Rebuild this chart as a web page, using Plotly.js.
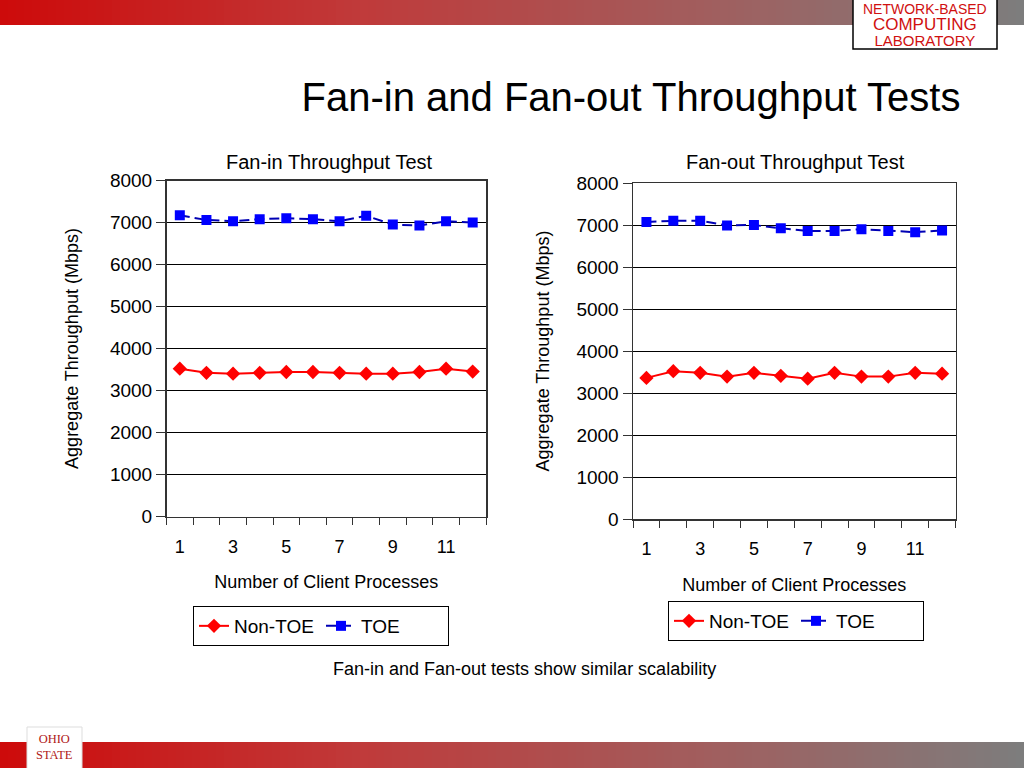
<!DOCTYPE html>
<html>
<head>
<meta charset="utf-8">
<script src="https://cdn.plot.ly/plotly-3.0.1.min.js"></script>
<style>
html,body{margin:0;padding:0;background:#fff;}
#chart{width:1024px;height:768px;}
</style>
</head>
<body>
<div id="chart"></div>
<script>
// ---- data ----
var processes = [1, 2, 3, 4, 5, 6, 7, 8, 9, 10, 11, 12];
var xTickVals = [1, 3, 5, 7, 9, 11];
var xBoundaries = [0.5, 1.5, 2.5, 3.5, 4.5, 5.5, 6.5, 7.5, 8.5, 9.5, 10.5, 11.5, 12.5];
var fanInNonToe  = [3520, 3420, 3400, 3420, 3440, 3440, 3420, 3400, 3400, 3440, 3520, 3450];
var fanInToe     = [7170, 7060, 7030, 7080, 7100, 7080, 7030, 7160, 6950, 6930, 7030, 7000];
var fanOutNonToe = [3360, 3520, 3480, 3390, 3480, 3410, 3340, 3480, 3390, 3390, 3480, 3460];
var fanOutToe    = [7070, 7100, 7100, 6990, 7000, 6920, 6860, 6860, 6900, 6860, 6830, 6870];
var seriesNames = ['Non-TOE', 'TOE'];

var FONT = 'Liberation Sans, Arial, sans-serif';
var red = '#ff0000', blue = '#0000ff', blueLine = '#0000b4';

function nonToeTrace(y, xa, ya, lg) {
  return {x: processes, y: y, xaxis: xa, yaxis: ya, legend: lg, name: seriesNames[0],
    type: 'scatter', mode: 'lines+markers',
    line: {color: red, width: 2},
    marker: {symbol: 'diamond', size: 11, color: red}};
}
function toeTrace(y, xa, ya, lg) {
  return {x: processes, y: y, xaxis: xa, yaxis: ya, legend: lg, name: seriesNames[1],
    type: 'scatter', mode: 'lines+markers',
    line: {color: blueLine, width: 2, dash: '10px,5px'},
    marker: {symbol: 'square', size: 10, color: blue}};
}

var traces = [
  nonToeTrace(fanInNonToe, 'x', 'y', 'legend'),
  toeTrace(fanInToe, 'x', 'y', 'legend'),
  nonToeTrace(fanOutNonToe, 'x2', 'y2', 'legend2'),
  toeTrace(fanOutToe, 'x2', 'y2', 'legend2')
];

function xAxis(domain, anchor) {
  return {domain: domain, anchor: anchor, range: [0.5, 12.5], fixedrange: true,
    tickmode: 'array', tickvals: xTickVals,
    ticks: 'outside', ticklen: 13, tickcolor: 'rgba(0,0,0,0)',
    minor: {tickmode: 'array', tickvals: xBoundaries, ticks: 'outside', ticklen: 7, tickcolor: '#333', tickwidth: 1},
    showgrid: false, zeroline: false,
    showline: true, linecolor: '#333', linewidth: 1.5, mirror: true,
    tickfont: {family: FONT, size: 18, color: '#000'},
    title: {text: 'Number of Client Processes', standoff: 20, font: {family: FONT, size: 18, color: '#000'}}};
}
function yAxis(domain, anchor, standoff) {
  return {domain: domain, anchor: anchor, range: [0, 8000], dtick: 1000, fixedrange: true,
    ticks: 'outside', ticklen: 9, tickcolor: '#333',
    showgrid: true, gridcolor: '#000', gridwidth: 1, zeroline: false,
    showline: true, linecolor: '#333', linewidth: 1.5, mirror: true,
    tickfont: {family: FONT, size: 19, color: '#000'},
    title: {text: 'Aggregate Throughput (Mbps)', standoff: standoff, font: {family: FONT, size: 18, color: '#000'}}};
}

// ---- decorative gradient bars ----
var shapes = [];
function lerp(a, b, t) { return Math.round(a + (b - a) * t); }
function gradColor(t) {
  var stops = [[0, [205, 10, 10]], [0.35, [192, 58, 58]], [0.7, [160, 95, 95]], [1, [125, 125, 125]]];
  for (var i = 0; i < stops.length - 1; i++) {
    var s0 = stops[i], s1 = stops[i + 1];
    if (t <= s1[0]) {
      var u = (t - s0[0]) / (s1[0] - s0[0]);
      return 'rgb(' + lerp(s0[1][0], s1[1][0], u) + ',' + lerp(s0[1][1], s1[1][1], u) + ',' + lerp(s0[1][2], s1[1][2], u) + ')';
    }
  }
  return 'rgb(125,125,125)';
}
var N = 128;
for (var i = 0; i < N; i++) {
  var x0 = i / N, x1 = (i + 1) / N + 0.001, c = gradColor((i + 0.5) / N);
  shapes.push({type: 'rect', xref: 'paper', yref: 'paper', x0: x0, x1: x1, y0: 1 - 25 / 768, y1: 1, fillcolor: c, line: {width: 0}, layer: 'below'});
  shapes.push({type: 'rect', xref: 'paper', yref: 'paper', x0: x0, x1: x1, y0: 0, y1: 1 - 742 / 768, fillcolor: c, line: {width: 0}, layer: 'below'});
}
// logo boxes
shapes.push({type: 'rect', xref: 'paper', yref: 'paper', x0: 853 / 1024, x1: 997 / 1024, y0: 1 - 49 / 768, y1: 1.002, fillcolor: '#fff', line: {color: '#000', width: 1.5}, layer: 'below'});
shapes.push({type: 'rect', xref: 'paper', yref: 'paper', x0: 27 / 1024, x1: 82 / 1024, y0: -0.002, y1: 1 - 727 / 768, fillcolor: '#fff', line: {color: '#ddd', width: 1}, layer: 'below'});

function ann(text, xpx, ypx, size, opts) {
  var a = {text: text, xref: 'paper', yref: 'paper', x: xpx / 1024, y: 1 - ypx / 768,
    xanchor: 'center', yanchor: 'middle', showarrow: false,
    font: {family: FONT, size: size, color: '#000'}};
  if (opts) for (var k in opts) a[k] = opts[k];
  return a;
}

var annotations = [
  ann('Fan-in Throughput Test', 329, 162, 20),
  ann('Fan-out Throughput Test', 795, 162, 20),
  ann('Fan-in and Fan-out tests show similar scalability', 524, 669, 18),
  ann('<span style="font-size:14px">NETWORK-BASED</span><br><span style="font-size:17px">COMPUTING</span><br><span style="font-size:15px">LABORATORY</span>',
      925, 25, 12.3, {font: {family: FONT, size: 12.3, color: '#d01010'}, borderpad: 0}),
  ann('OHIO<br>STATE', 54, 747, 12.5, {font: {family: 'Liberation Serif, Times New Roman, serif', size: 12.5, color: '#b01818'}, borderpad: 0})
];

var legendStyle = function (xpx, ypx) {
  return {x: xpx / 1024, y: 1 - ypx / 768, xanchor: 'left', yanchor: 'top', orientation: 'h',
    bgcolor: '#fff', bordercolor: '#000', borderwidth: 1,
    font: {family: FONT, size: 19, color: '#000'}, entrywidth: 82, entrywidthmode: 'pixels', tracegroupgap: 0};
};

var layout = {
  width: 1024, height: 768,
  margin: {l: 0, r: 0, t: 0, b: 0, pad: 0},
  paper_bgcolor: '#fff', plot_bgcolor: '#fff',
  font: {family: FONT, color: '#000'},
  title: {text: 'Fan-in and Fan-out Throughput Tests', x: 631 / 1024, xanchor: 'center', y: 1 - 97 / 768, yanchor: 'middle',
    font: {family: FONT, size: 40, color: '#000'}},
  showlegend: true,
  xaxis: xAxis([166.5 / 1024, 486 / 1024], 'y'),
  yaxis: yAxis([1 - 516.5 / 768, 1 - 180.5 / 768], 'x', 26),
  xaxis2: xAxis([633 / 1024, 955.5 / 1024], 'y2'),
  yaxis2: yAxis([1 - 519 / 768, 1 - 183 / 768], 'x2', 22),
  legend: legendStyle(193, 606),
  legend2: legendStyle(668, 601),
  shapes: shapes,
  annotations: annotations
};

Plotly.newPlot('chart', traces, layout, {displayModeBar: false, staticPlot: true});
</script>
</body>
</html>
